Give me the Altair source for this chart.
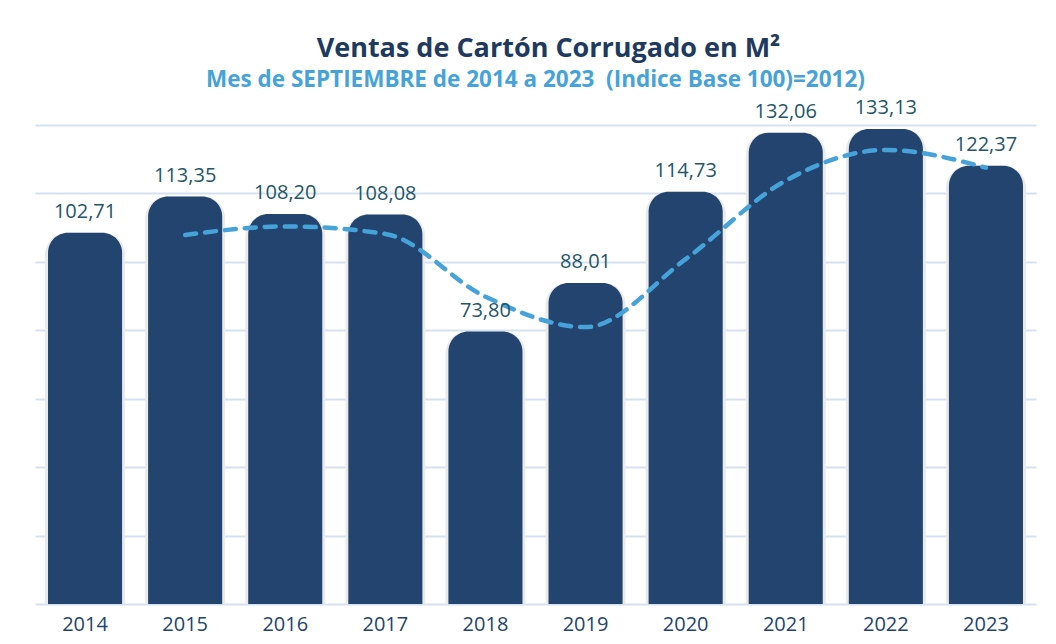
import altair as alt
import pandas as pd

years = ["2014", "2015", "2016", "2017", "2018", "2019", "2020", "2021", "2022", "2023"]
ventas = [102.71, 113.35, 108.20, 108.08, 73.80, 88.01, 114.73, 132.06, 133.13, 122.37]
tendencia = [None, 102.1, 104.6, 102.4, 84.0, 75.1, 95.0, 118.0, 127.0, 121.8]

TITLE = "Ventas de Cartón Corrugado en M²"
SUBTITLE = "Mes de SEPTIEMBRE de 2014 a 2023\u00a0 (Indice Base 100)=2012)"

Y_MIN, Y_MAX = -6.0, 134.3
grid_vals = [Y_MIN + i * (Y_MAX - Y_MIN) / 7 for i in range(8)]

df = pd.DataFrame({
    "year": years,
    "value": ventas,
    "label": [f"{v:.2f}".replace(".", ",") for v in ventas],
})
df_line = pd.DataFrame({"year": years, "trend": tendencia}).dropna()
df_title = pd.DataFrame({"t": [TITLE], "s": [SUBTITLE]})

BAR = "#23446E"
LINE = "#45A3DA"
W, H = 1001, 479

x = alt.X("year:N", title=None, sort=years,
          scale=alt.Scale(paddingInner=0.26, paddingOuter=0.13),
          axis=alt.Axis(labelAngle=0, labelFontSize=20, labelColor=BAR, labelFont="Open Sans",
                        labelPadding=10, domain=False, ticks=False, grid=False))
y_scale = alt.Scale(domain=[Y_MIN, Y_MAX], zero=False, nice=False)

grid = alt.Chart(df).mark_bar(opacity=0).encode(
    y=alt.Y("value:Q", scale=y_scale, title=None,
            axis=alt.Axis(values=grid_vals, labels=False, ticks=False, domain=False,
                          grid=True, gridColor="#D5E1F0", gridWidth=2))
)

shadow = alt.Chart(df).mark_bar(color="#EAEAEA", size=80,
                                cornerRadiusTopLeft=22, cornerRadiusTopRight=22).encode(
    x=x, y=alt.Y("value:Q", scale=y_scale), y2=alt.datum(Y_MIN)
)

bars = alt.Chart(df).mark_bar(color=BAR, cornerRadiusTopLeft=20, cornerRadiusTopRight=20).encode(
    x=x, y=alt.Y("value:Q", scale=y_scale), y2=alt.datum(Y_MIN)
)

labels = alt.Chart(df).mark_text(fontSize=20, font="Open Sans", color="#23566A",
                                 baseline="middle", dy=-21).encode(
    x=x, y=alt.Y("value:Q", scale=y_scale), text="label:N"
)

line = alt.Chart(df_line).mark_line(color=LINE, strokeWidth=4.5, strokeDash=[11, 9],
                                    strokeCap="round", interpolate="monotone").encode(
    x=x, y=alt.Y("trend:Q", scale=y_scale)
)

title = alt.Chart(df_title).mark_text(font="Open Sans", fontSize=27, fontWeight="bold",
                                      color="#1F3A5F", baseline="middle", align="center").encode(
    x=alt.value(W / 2 + 13), y=alt.value(-76), text="t:N"
)
subtitle = alt.Chart(df_title).mark_text(font="Open Sans", fontSize=22.5, fontWeight="bold",
                                         color=LINE, baseline="middle", align="center").encode(
    x=alt.value(W / 2), y=alt.value(-45), text="s:N"
)

chart = alt.layer(grid, shadow, bars, line, labels, title, subtitle).properties(
    width=W, height=H,
    autosize=alt.AutoSizeParams(type="none"),
    padding={"left": 27, "top": 117, "right": 5, "bottom": 36},
).configure(background="white").configure_view(stroke=None)

chart.save("out.html", embed_options={"renderer": "svg", "actions": False})
